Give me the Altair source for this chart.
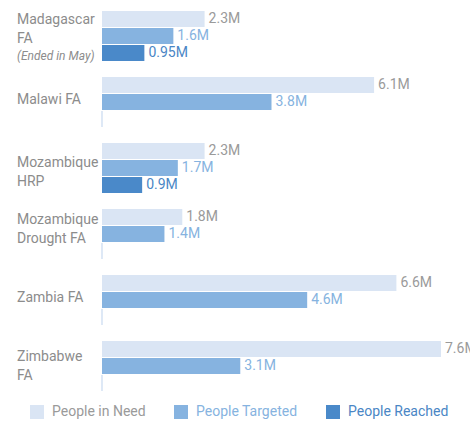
import altair as alt
import pandas as pd

countries = ["Madagascar FA", "Malawi FA", "Mozambique HRP",
             "Mozambique Drought FA", "Zambia FA", "Zimbabwe FA"]
country_lines = ["Madagascar\nFA", "Malawi FA", "Mozambique\nHRP",
                 "Mozambique\nDrought FA", "Zambia FA", "Zimbabwe\nFA"]
note_country = "Madagascar FA"
note_text = "(Ended in May)"
series = ["People in Need", "People Targeted", "People Reached"]
people_in_need = [2.3, 6.1, 2.3, 1.8, 6.6, 7.6]
people_targeted = [1.6, 3.8, 1.7, 1.4, 4.6, 3.1]
people_reached = [0.95, 0, 0.9, 0, 0, 0]

bar_colors = ["#dae5f4", "#86b3e0", "#4a89c9"]
text_colors = ["#9a9a9a", "#86b3e0", "#4a86c5"]
label_gray = "#8c8c8c"
FONT = "Roboto"

rows = []
for i, c in enumerate(countries):
    for s, vals in zip(series, [people_in_need, people_targeted, people_reached]):
        rows.append({"country": c, "series": s, "value": vals[i]})
df = pd.DataFrame(rows)

labels_df = pd.DataFrame({"country": countries, "text": country_lines})

y = alt.Y("country:N", axis=None,
          scale=alt.Scale(domain=countries, paddingInner=0.242, paddingOuter=0))
yoff = alt.YOffset("series:N",
                   scale=alt.Scale(domain=series, paddingInner=0.06, paddingOuter=0))
x = alt.X("value:Q", axis=None, scale=alt.Scale(domain=[0, 7.6], nice=False, zero=True))

label_expr = ("datum.value === 'People in Need' ? '%s' : datum.value === 'People Targeted' ? '%s' : '%s'"
              % tuple(text_colors))

bars = alt.Chart(df).transform_filter("datum.value > 0").mark_bar().encode(
    x=x, y=y, yOffset=yoff,
    color=alt.Color("series:N", scale=alt.Scale(domain=series, range=bar_colors),
                    legend=alt.Legend(title=None, orient="none", direction="horizontal",
                                      legendX=-72, legendY=394,
                                      symbolType="square", symbolSize=196,
                                      symbolStrokeWidth=0, symbolOpacity=1,
                                      labelFont=FONT, labelFontSize=14,
                                      labelOffset=8, columnPadding=28,
                                      labelColor=alt.ExprRef(label_expr))),
)

zeros = alt.Chart(df).transform_filter("datum.value == 0").mark_bar(
    stroke="#d3e1f3", strokeWidth=1, fill="#d3e1f3"
).encode(x=x, y=y, yOffset=yoff)

values = alt.Chart(df).transform_filter("datum.value > 0").transform_calculate(
    label="format(datum.value, '.2~f') + 'M'"
).mark_text(align="left", baseline="middle", dx=4, font=FONT, fontSize=14).encode(
    x=x, y=y, yOffset=yoff, text="label:N",
    color=alt.Color("series:N", scale=alt.Scale(domain=series, range=text_colors), legend=None),
)

offsets = {"Madagascar FA": -16, "Malawi FA": -2, "Mozambique HRP": -5,
           "Mozambique Drought FA": -14, "Zambia FA": -2, "Zimbabwe FA": -9}
label_layers = []
for dy in sorted(set(offsets.get(c, 0) for c in countries)):
    members = [c for c in countries if offsets.get(c, 0) == dy]
    label_layers.append(
        alt.Chart(labels_df).transform_filter(
            alt.FieldOneOfPredicate(field="country", oneOf=members)
        ).mark_text(align="left", baseline="middle", font=FONT, fontSize=14,
                    color=label_gray, lineBreak="\n", lineHeight=19, dy=dy).encode(
            x=alt.value(-85), y=y, text="text:N")
    )

note = alt.Chart(pd.DataFrame({"country": [note_country], "text": [note_text]})).mark_text(
    align="left", baseline="middle", font=FONT, fontSize=12, fontStyle="italic",
    color=label_gray, dy=20
).encode(x=alt.value(-85), y=y, text="text:N")

chart = alt.layer(bars, zeros, values, *label_layers, note).resolve_scale(
    color="independent"
).properties(
    width=339, height=380,
    autosize=alt.AutoSizeParams(type="none"),
    padding={"left": 102, "top": 11, "right": 29, "bottom": 30},
).configure_view(stroke=None)

chart.save("out.html", embed_options={"renderer": "svg", "actions": False})
